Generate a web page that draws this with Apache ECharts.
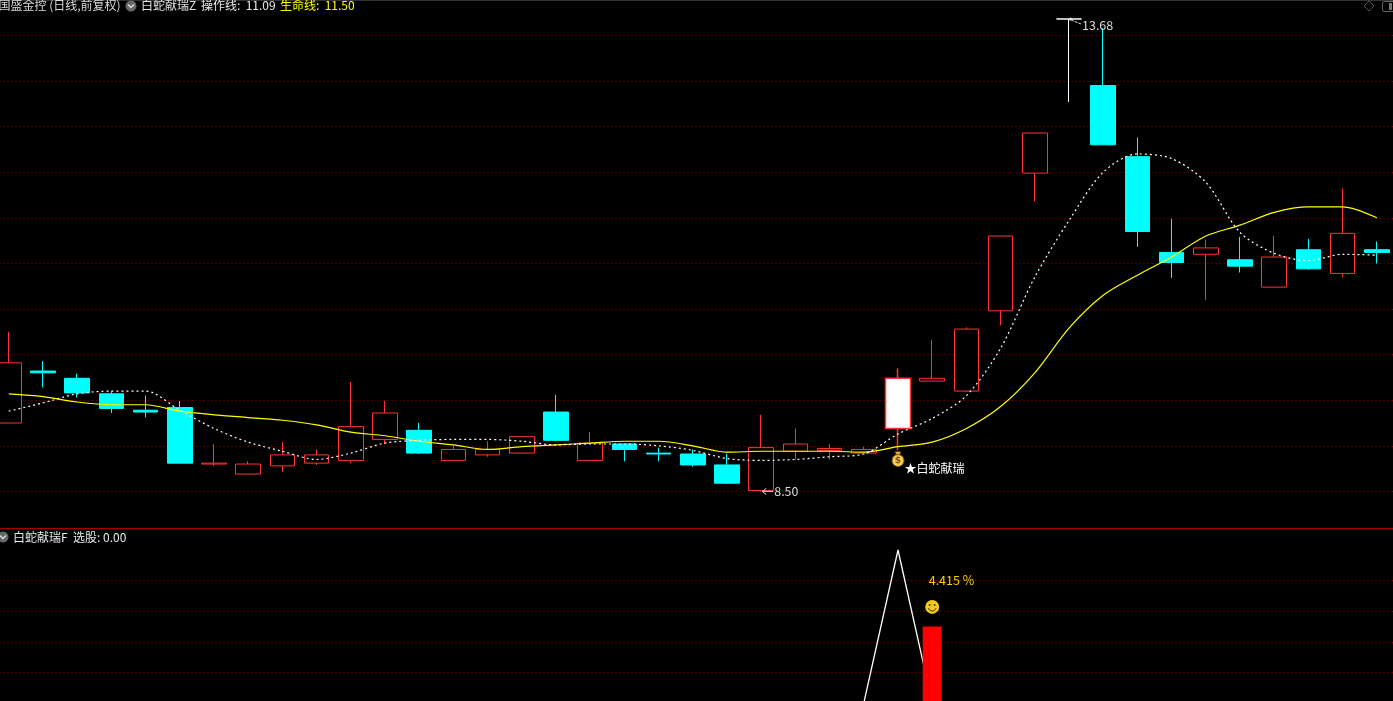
<!DOCTYPE html>
<html>
<head>
<meta charset="utf-8">
<title>国盛金控</title>
<script src="https://cdn.jsdelivr.net/npm/echarts@6/dist/echarts.min.js"></script>
<style>
html,body{margin:0;padding:0;background:#000;overflow:hidden;}
#main{width:1393px;height:701px;}
</style>
</head>
<body>
<div id="main"></div>
<script>
// K线数据
const opens = [9.25,9.82,9.74,9.57,9.39,9.42,8.80,8.69,8.78,8.81,8.84,9.07,9.17,8.84,8.90,8.92,9.37,8.84,9.02,8.92,8.91,8.79,8.51,8.94,8.95,8.92,9.19,9.71,9.60,10.48,11.99,13.68,12.95,12.17,11.12,11.10,11.04,10.74,11.15,10.89,11.15];
const closes = [9.91,9.80,9.58,9.41,9.37,8.81,8.81,8.80,8.90,8.90,9.21,9.36,8.92,8.96,8.96,9.10,9.06,9.03,8.96,8.91,8.79,8.59,8.98,9.02,8.97,8.96,9.74,9.74,10.28,11.30,12.43,13.68,12.30,11.35,11.01,11.17,10.97,11.07,10.94,11.33,11.12];
const lows = [9.25,9.64,9.53,9.36,9.31,8.81,8.78,8.69,8.71,8.79,8.81,9.02,8.91,8.84,8.88,8.92,9.05,8.84,8.83,8.83,8.77,8.58,8.50,8.85,8.85,8.92,8.95,9.71,9.59,10.32,11.68,12.77,12.30,11.18,10.84,10.60,10.90,10.74,10.93,10.85,11.00];
const highs = [10.25,9.93,9.79,9.60,9.55,9.49,9.02,8.83,9.04,8.96,9.70,9.49,9.25,9.00,9.05,9.10,9.56,9.15,9.02,8.98,8.96,8.91,9.34,9.19,9.02,8.99,9.85,10.16,10.30,11.30,12.43,13.68,13.58,12.38,11.49,11.26,11.29,11.30,11.27,11.82,11.24];
// 操作线 / 生命线
const opLine = [9.38,9.47,9.57,9.60,9.60,9.39,9.19,9.04,8.94,8.85,8.92,9.03,9.06,9.07,9.07,9.05,9.01,9.02,9.02,9.00,8.95,8.86,8.84,8.85,8.88,8.91,9.13,9.30,9.55,10.07,10.85,11.47,12.00,12.20,12.15,11.89,11.34,11.11,11.03,11.10,11.09];
const lifeLine = [9.57,9.54,9.48,9.45,9.45,9.38,9.34,9.31,9.28,9.23,9.15,9.11,9.05,9.01,8.96,8.99,9.01,9.03,9.05,9.05,9.00,8.93,8.94,8.94,8.94,8.93,8.99,9.04,9.19,9.43,9.80,10.29,10.65,10.87,11.07,11.30,11.42,11.56,11.62,11.62,11.50];
// 副图
const signalLine = [0,0,0,0,0,0,0,0,0,0,0,0,0,0,0,0,0,0,0,0,0,0,0,0,0,0,5,0,0,0,0,0,0,0,0,0,0,0,0,0,0];
const pickIndex = [27];
const pickValues = [2.5];
// 高低点标注
const markIndex = [31,22];
const markPrices = [13.68,8.50];
const markTexts = ['13.68','8.50'];
const signalIndex = 26;
const signalPrice = 8.86;
const signalText = '★白蛇献瑞';
const smileValue = 3.14;
const percentValue = 4.0;
const percentText = '4.415 %';

const categories = opens.map((v,i) => String(i));
const font = '12px "Noto Sans CJK SC", "Noto Sans", sans-serif';
const numFont = '12.5px "Noto Sans CJK SC", "Noto Sans", sans-serif';
const gridLine = {show:true,lineStyle:{color:'#900000',type:[1,3],width:1}};
const RED = '#ff3333', CYAN = '#00ffff';

// 阳线空心,信号日白色实体,涨停一字白色
const candleData = opens.map((o,i) => {
  let item = {value:[o,closes[i],lows[i],highs[i]]};
  if(i === signalIndex) item.itemStyle = {color:'#fff',borderColor:RED,borderWidth:1.5};
  if(i === 31) item.itemStyle = {color:'#fff',color0:'#fff',borderColor:'#fff',borderColor0:'#fff',borderColorDoji:'#fff'};
  return item;
});

function renderMark(params,api){
  let p = api.coord([api.value(0),api.value(1)]);
  let x = p[0], y = p[1], i = params.dataIndex;
  let arrow = i === 0
    ? [{type:'line',shape:{x1:x+2,y1:y+1,x2:x+12,y2:y+5},style:{stroke:'#ddd',lineWidth:1,lineDash:[3,1]}},
       {type:'circle',shape:{cx:x+1.5,cy:y,r:1.5},style:{fill:'#ddd'}}]
    : [{type:'polyline',shape:{points:[[x+5,y-3],[x+1,y],[x+5,y+3]]},style:{stroke:'#ddd',fill:null,lineWidth:1}},
       {type:'line',shape:{x1:x+2,y1:y,x2:x+12,y2:y},style:{stroke:'#ddd',lineWidth:1}}];
  let ty = i === 0 ? y+6 : y;
  arrow.push({type:'text',style:{text:markTexts[i],x:x+13,y:ty,fill:'#dcdcdc',font:numFont,textVerticalAlign:'middle'}});
  return {type:'group',children:arrow};
}

function renderBag(params,api){
  let p = api.coord([api.value(0),api.value(1)]);
  let x = p[0], y = p[1];
  return {type:'group',children:[
    {type:'polygon',shape:{points:[[x-3,y-7],[x+3,y-7],[x+1.5,y-3],[x-1.5,y-3]]},style:{fill:'#e8b830',stroke:'#5a3a10',lineWidth:1}},
    {type:'circle',shape:{cx:x,cy:y+2,r:6},style:{fill:'#f4cf58',stroke:'#7a5010',lineWidth:1}},
    {type:'text',style:{text:'$',x:x,y:y+2,fill:'#8a4a10',font:'bold 9px "DejaVu Sans"',textAlign:'center',textVerticalAlign:'middle'}},
    {type:'text',style:{text:signalText,x:x+6.5,y:y+10,fill:'#fff',font:font,textVerticalAlign:'middle'}}
  ]};
}

function renderSmile(params,api){
  let p = api.coord([api.value(0),api.value(1)]);
  let x = p[0], y = p[1];
  return {type:'group',children:[
    {type:'circle',shape:{cx:x,cy:y,r:7},style:{fill:'#f2c81e'}},
    {type:'circle',shape:{cx:x-2.5,cy:y-2,r:1},style:{fill:'#4a3a00'}},
    {type:'circle',shape:{cx:x+2.5,cy:y-2,r:1},style:{fill:'#4a3a00'}},
    {type:'arc',shape:{cx:x,cy:y,r:4,startAngle:0.3,endAngle:Math.PI-0.3},style:{stroke:'#4a3a00',fill:null,lineWidth:1}}
  ]};
}

function renderPercent(params,api){
  let p = api.coord([api.value(0),api.value(1)]);
  return {type:'text',style:{text:percentText,x:p[0]-3.5,y:p[1],fill:'#ffd000',font:numFont,textVerticalAlign:'middle'}};
}

function headText(x,y,text,color){
  return {type:'text',left:x,top:y-6,style:{text:text,fill:color,font:font},silent:true};
}
function chevron(cx,cy){
  return {type:'group',silent:true,children:[
    {type:'circle',shape:{cx:cx,cy:cy,r:5.5},style:{fill:'#666'}},
    {type:'polyline',shape:{points:[[cx-3,cy-1.5],[cx,cy+1.5],[cx+3,cy-1.5]]},style:{stroke:'#ddd',fill:null,lineWidth:1.4}}
  ]};
}

let option = {
  backgroundColor:'#000',
  animation:false,
  grid:[
    {left:-8.3,width:1402.2,top:35.4,height:456,outerBoundsMode:'none'},
    {left:-8.3,width:1402.2,top:580.6,height:122.4,outerBoundsMode:'none'}
  ],
  xAxis:[
    {type:'category',gridIndex:0,data:categories,show:false},
    {type:'category',gridIndex:1,data:categories,show:false}
  ],
  yAxis:[
    {type:'value',gridIndex:0,min:8.5,max:13.5,interval:0.5,axisLine:{show:false},axisTick:{show:false},axisLabel:{show:false},splitLine:gridLine},
    {type:'value',gridIndex:1,min:0,max:4,interval:1,axisLine:{show:false},axisTick:{show:false},axisLabel:{show:false},splitLine:gridLine}
  ],
  series:[
    {
      type:'candlestick',name:'K',data:candleData,barWidth:25,clip:false,
      itemStyle:{color:'#000',color0:CYAN,borderColor:RED,borderColor0:CYAN,borderColorDoji:RED,borderWidth:1}
    },
    {type:'line',data:lifeLine,symbol:'none',clip:false,smooth:0.3,z:3,lineStyle:{color:'#ffff00',width:1.2}},
    {type:'line',data:opLine,symbol:'none',clip:false,smooth:0.3,z:4,lineStyle:{color:'#fff',width:1.2,type:[2,3]}},
    {type:'custom',data:markIndex.map((v,i) => [v,markPrices[i]]),renderItem:renderMark,z:5},
    {type:'custom',data:[[signalIndex,signalPrice]],renderItem:renderBag,z:5},
    {type:'line',xAxisIndex:1,yAxisIndex:1,data:signalLine,symbol:'none',clip:false,z:2,lineStyle:{color:'#fff',width:1.3}},
    {type:'bar',xAxisIndex:1,yAxisIndex:1,data:pickIndex.map((v,i) => [v,pickValues[i]]),barWidth:19,z:3,itemStyle:{color:'#ff0000'}},
    {type:'custom',xAxisIndex:1,yAxisIndex:1,data:[[pickIndex[0],smileValue]],renderItem:renderSmile,z:5},
    {type:'custom',xAxisIndex:1,yAxisIndex:1,data:[[pickIndex[0],percentValue]],renderItem:renderPercent,z:5}
  ],
  graphic:[
    {type:'rect',silent:true,shape:{x:0,y:0,width:1393,height:1},style:{fill:'#333'}},
    {type:'rect',silent:true,shape:{x:0,y:528,width:1393,height:1},style:{fill:'#a00000'}},
    headText(-1.5,5,'国盛金控 (日线,前复权)','#d8d8d8'),
    chevron(131,6),
    headText(141,5,'白蛇献瑞Z','#e0e0e0'),
    headText(201,5,'操作线:  '+opLine[40].toFixed(2),'#e8e8e8'),
    headText(280,5,'生命线:  '+lifeLine[40].toFixed(2),'#ffff00'),
    chevron(3,537),
    headText(13,537,'白蛇献瑞F  选股: 0.00','#e8e8e8'),
    {type:'polygon',silent:true,shape:{points:[[1369,1],[1374,6],[1369,11],[1364,6]]},style:{stroke:'#555',fill:null,lineWidth:1}},
    {type:'rect',silent:true,shape:{x:1382.5,y:1.5,width:14,height:10,r:2},style:{stroke:'#666',fill:null,lineWidth:1}},
    {type:'rect',silent:true,shape:{x:1389,y:3,width:3,height:7},style:{fill:'#777'}}
  ]
};

var myCharts = echarts.init(document.getElementById('main'));
myCharts.setOption(option);
</script>
</body>
</html>
